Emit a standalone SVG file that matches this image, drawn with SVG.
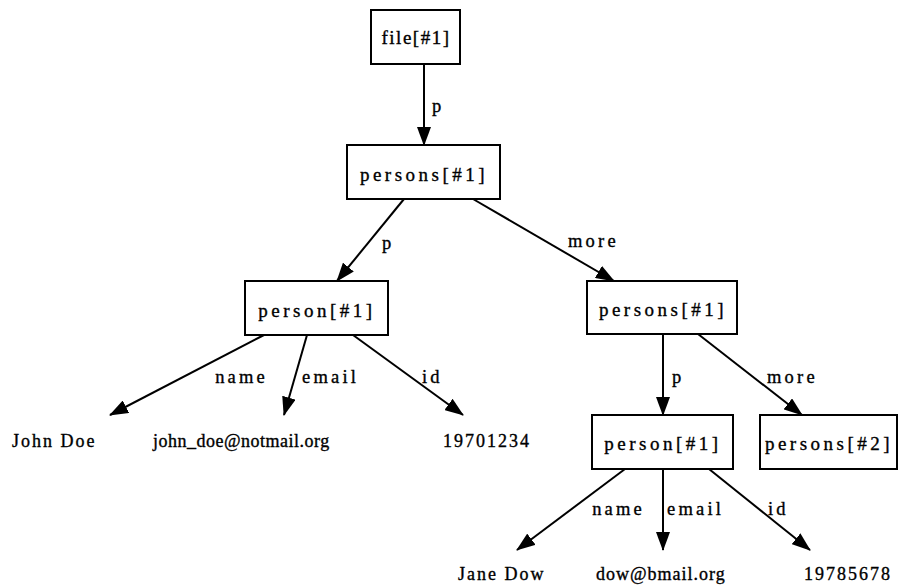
<svg xmlns="http://www.w3.org/2000/svg" width="899" height="588" viewBox="0 0 899 588">
<style>
.box{fill:#fff;stroke:#000;stroke-width:2}
.t{font-family:"Liberation Serif","Times New Roman",serif;font-size:18px;letter-spacing:2px;fill:#000;stroke:#000;stroke-width:0.35px}
.b{font-size:19px;letter-spacing:3.5px;text-anchor:middle}
.l{font-size:18.5px;letter-spacing:3.2px}
.e{fill:none;stroke:#000;stroke-width:2;marker-end:url(#ah)}
</style>
<defs>
<marker id="ah" markerUnits="userSpaceOnUse" markerWidth="19" markerHeight="14" refX="18" refY="7" orient="auto">
<path d="M0,0 L19,7 L0,14 z" fill="#000"/>
</marker>
</defs>
<rect width="899" height="588" fill="#fff"/>
<g id="connectors">
<line class="e" x1="424" y1="64" x2="424" y2="145"/>
<line class="e" x1="404" y1="199" x2="337" y2="281"/>
<line class="e" x1="473" y1="199" x2="614" y2="281"/>
<line class="e" x1="264" y1="335" x2="110" y2="415"/>
<line class="e" x1="307" y1="335" x2="284" y2="415"/>
<line class="e" x1="353" y1="335" x2="463" y2="415"/>
<line class="e" x1="663" y1="334" x2="663" y2="415"/>
<line class="e" x1="698" y1="334" x2="802" y2="415"/>
<line class="e" x1="625" y1="469" x2="517" y2="550"/>
<line class="e" x1="663" y1="469" x2="663" y2="550"/>
<line class="e" x1="709" y1="469" x2="810" y2="550"/>
<text class="t l" x="432" y="112">p</text>
<text class="t l" x="382" y="249">p</text>
<text class="t l" x="568" y="247">more</text>
<text class="t l" x="268" y="383" text-anchor="end">name</text>
<text class="t l" x="302" y="383">email</text>
<text class="t l" x="422" y="383">id</text>
<text class="t l" x="672" y="383">p</text>
<text class="t l" x="767" y="383">more</text>
<text class="t l" x="645" y="515" text-anchor="end">name</text>
<text class="t l" x="667" y="515">email</text>
<text class="t l" x="768" y="515">id</text>
</g>
<g id="n-file"><rect class="box" x="371" y="10" width="89" height="54"/><text class="t b" x="416" y="44" style="letter-spacing:1.5px">file[#1]</text></g>
<g id="n-persons1"><rect class="box" x="347" y="145" width="153" height="54"/><text class="t b" x="424" y="181">persons[#1]</text></g>
<g id="n-person1a"><rect class="box" x="245" y="281" width="143" height="54"/><text class="t b" x="317" y="317">person[#1]</text></g>
<g id="n-persons1b"><rect class="box" x="587" y="281" width="150" height="53"/><text class="t b" x="663" y="316">persons[#1]</text></g>
<g id="n-person1b"><rect class="box" x="592" y="415" width="141" height="54"/><text class="t b" x="663" y="450">person[#1]</text></g>
<g id="n-persons2"><rect class="box" x="760" y="415" width="137" height="54"/><text class="t b" x="829" y="450">persons[#2]</text></g>
<g id="v-john-name"><text class="t" x="12" y="447">John Doe</text></g>
<g id="v-john-email"><text class="t" x="153" y="447" style="letter-spacing:0.5px">john_doe@notmail.org</text></g>
<g id="v-john-id"><text class="t" x="443" y="447">19701234</text></g>
<g id="v-jane-name"><text class="t" x="458" y="580">Jane Dow</text></g>
<g id="v-jane-email"><text class="t" x="596" y="580" style="letter-spacing:1px">dow@bmail.org</text></g>
<g id="v-jane-id"><text class="t" x="804" y="580">19785678</text></g>
</svg>
